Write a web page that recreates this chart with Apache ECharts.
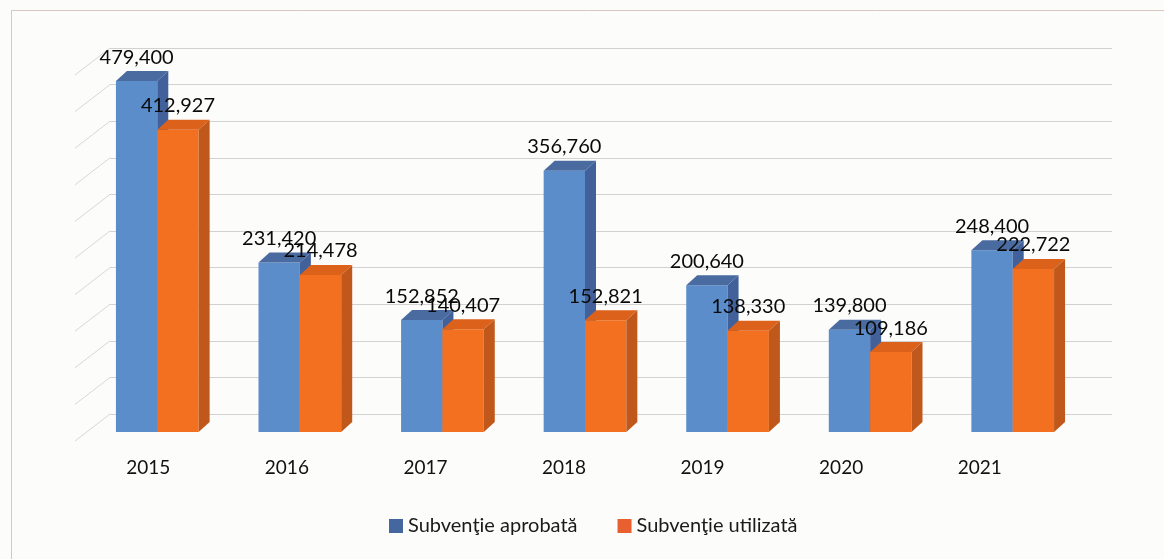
<!DOCTYPE html>
<html>
<head>
<meta charset="utf-8">
<script src="https://cdn.jsdelivr.net/npm/echarts@6/dist/echarts.min.js"></script>
<style>
  html, body { margin: 0; padding: 0; background: #fcfcfa; }
  #chart { width: 1164px; height: 559px; }
</style>
</head>
<body>
<div id="chart"></div>
<script>
// Subsidy per year: approved vs used
const years = ['2015', '2016', '2017', '2018', '2019', '2020', '2021'];
const approved = [479400, 231420, 152852, 356760, 200640, 139800, 248400];
const used = [412927, 214478, 140407, 152821, 138330, 109186, 222722];
const seriesNames = ['Subvenţie aprobată', 'Subvenţie utilizată'];
const yMax = 500000;
const yStep = 50000;

// Wall grid levels follow the value axis step
const wallLevels = [];
for (let v = 0; v <= yMax; v += yStep) wallLevels.push(v);

const DX = 11, DY = -10;          // depth offset of bar boxes
const WALL_DX = 35, WALL_DY = 27; // side-wall slant
const FONT = 'Lato, "Open Sans", sans-serif';

const palette = [
  { front: '#5b8dca', top: '#4a6ba0', side: '#42619a', legend: '#44679f' },
  { front: '#f2701f', top: '#dc621b', side: '#c1581b', legend: '#e8602f' }
];

function fmt(v) { return v.toLocaleString('en-US'); }

function boxRenderer(k) {
  return function (params, api) {
    const idx = api.value(0);
    const val = api.value(1);
    const top = api.coord([idx, val]);
    const base = api.coord([idx, 0]);
    const band = api.size([1, 0])[0];
    const w = band * 0.29;
    const x0 = k === 0 ? top[0] - w : top[0];
    const x1 = x0 + w;
    const yT = top[1], yB = base[1];
    const c = palette[k];
    return {
      type: 'group',
      children: [
        { type: 'rect', shape: { x: x0, y: yT, width: w, height: yB - yT },
          style: { fill: c.front } },
        { type: 'polygon', shape: { points: [[x0, yT], [x0 + DX, yT + DY], [x1 + DX, yT + DY], [x1, yT]] },
          style: { fill: c.top } },
        { type: 'polygon', shape: { points: [[x1, yT], [x1 + DX, yT + DY], [x1 + DX, yB + DY], [x1, yB]] },
          style: { fill: c.side } },
        { type: 'text', x: (x0 + x1) / 2, y: yT + DY - 4,
          style: { text: fmt(val), font: '20px ' + FONT, fill: '#0a0a0a',
                   align: 'center', verticalAlign: 'bottom' } }
      ]
    };
  };
}

const chart = echarts.init(document.getElementById('chart'), null, { renderer: 'canvas' });

chart.setOption({
  backgroundColor: '#fcfcfa',
  animation: false,
  graphic: [{
    type: 'rect', z: -10,
    shape: { x: 11.5, y: 10.5, width: 1200, height: 600 },
    style: { fill: 'none', stroke: '#d6c8c0', lineWidth: 1 }
  }],
  legend: {
    data: seriesNames,
    left: 384, top: 511,
    icon: 'rect', itemWidth: 14, itemHeight: 14, itemGap: 40,
    textStyle: { fontFamily: FONT, fontSize: 20, color: '#1a1a1a' }
  },
  grid: [
    { left: 86, right: 80, top: 66, bottom: 127 },   // bar front plane
    { left: 110, right: 52, top: 48, bottom: 145 },  // back wall
    { left: 79, right: 115, top: 66, bottom: 127 }   // floor labels
  ],
  xAxis: [
    { gridIndex: 0, type: 'category', data: years, show: false },
    { gridIndex: 1, type: 'value', min: 0, max: 1, show: false },
    { gridIndex: 2, type: 'category', data: years,
      axisLine: { show: false }, axisTick: { show: false },
      axisLabel: { margin: 26, fontFamily: FONT, fontSize: 19, color: '#111' } }
  ],
  yAxis: [
    { gridIndex: 0, type: 'value', min: 0, max: yMax, show: false },
    { gridIndex: 1, type: 'value', min: 0, max: yMax, interval: yStep,
      axisLine: { show: false }, axisTick: { show: false }, axisLabel: { show: false },
      splitLine: { show: true, lineStyle: { color: '#d2d2d2', width: 1 } } },
    { gridIndex: 2, type: 'value', min: 0, max: yMax, show: false }
  ],
  series: [
    {
      type: 'custom', name: 'wall', xAxisIndex: 1, yAxisIndex: 1, silent: true, z: 1,
      data: wallLevels.map(v => [0, v]),
      renderItem: function (params, api) {
        const p = api.coord([0, api.value(1)]);
        return { type: 'line',
          shape: { x1: p[0] - WALL_DX, y1: p[1] + WALL_DY, x2: p[0], y2: p[1] },
          style: { stroke: '#d8d8d8', lineWidth: 1 } };
      }
    },
    {
      type: 'custom', name: seriesNames[0], xAxisIndex: 0, yAxisIndex: 0, z: 3,
      itemStyle: { color: palette[0].legend },
      data: approved.map((v, i) => [i, v]),
      renderItem: boxRenderer(0)
    },
    {
      type: 'custom', name: seriesNames[1], xAxisIndex: 0, yAxisIndex: 0, z: 4,
      itemStyle: { color: palette[1].legend },
      data: used.map((v, i) => [i, v]),
      renderItem: boxRenderer(1)
    }
  ]
});
</script>
</body>
</html>
